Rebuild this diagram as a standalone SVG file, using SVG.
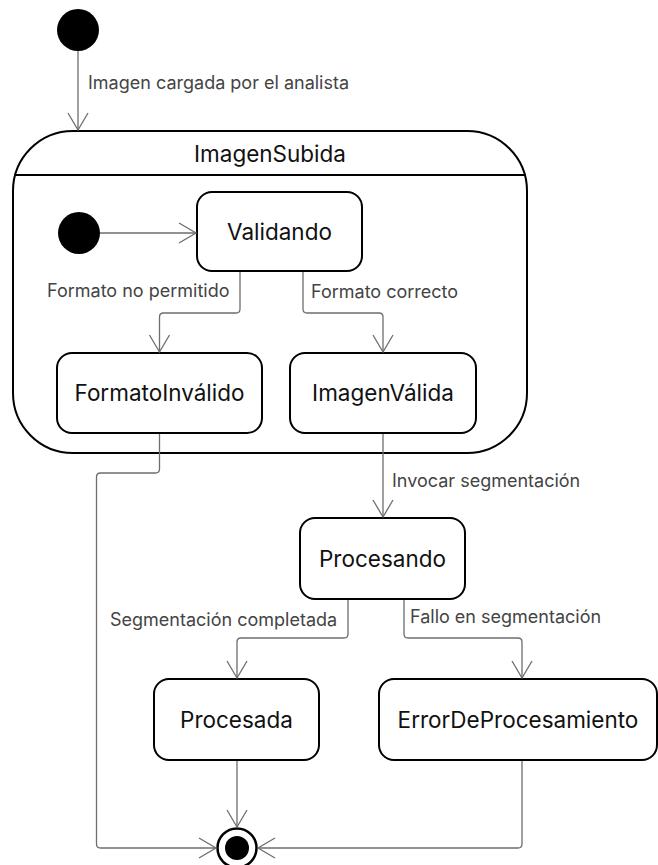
<svg xmlns="http://www.w3.org/2000/svg" width="658" height="865" viewBox="0 0 658 865">
<style>
.st{fill:#fff;stroke:#000;stroke-width:2}
.nl{font-family:Inter,"Liberation Sans",sans-serif;font-size:22.5px;fill:#111;text-anchor:middle}
.el{font-family:Inter,"Liberation Sans",sans-serif;font-size:18px;fill:#444}
.cn{fill:none;stroke:#6e6e6e;stroke-width:1.3}
</style>
<defs>
<marker id="arr" markerUnits="userSpaceOnUse" markerWidth="22" markerHeight="24" viewBox="-19 -12 21 24" refX="0" refY="0" orient="auto">
<path d="M-17,-10 L0,0 L-17,10" fill="none" stroke="#6e6e6e" stroke-width="1.3"/>
</marker>
</defs>
<rect width="658" height="865" fill="#fff"/>
<g id="init-top"><circle cx="78" cy="30" r="21" fill="#000"/></g>
<g id="ImagenSubida">
<rect class="st" x="13" y="131" width="514" height="322" rx="60"/>
<line x1="14" y1="175" x2="526" y2="175" stroke="#000" stroke-width="2"/>
<text class="nl" x="270" y="162">ImagenSubida</text>
</g>
<g id="init-inner"><circle cx="79" cy="233" r="21" fill="#000"/></g>
<g id="Validando"><rect class="st" x="197" y="192" width="165" height="79" rx="15"/><text class="nl" x="279.5" y="239.5">Validando</text></g>
<g id="FormatoInvalido"><rect class="st" x="57" y="353" width="205" height="80" rx="15"/><text class="nl" x="159.5" y="401">FormatoInválido</text></g>
<g id="ImagenValida"><rect class="st" x="290" y="353" width="186" height="80" rx="15"/><text class="nl" x="383" y="401">ImagenVálida</text></g>
<g id="Procesando"><rect class="st" x="300" y="518" width="165" height="81" rx="15"/><text class="nl" x="382.5" y="566.5">Procesando</text></g>
<g id="Procesada"><rect class="st" x="154" y="679" width="165" height="81" rx="15"/><text class="nl" x="236.5" y="727.5">Procesada</text></g>
<g id="ErrorDeProcesamiento"><rect class="st" x="379" y="679" width="278" height="81" rx="15"/><text class="nl" x="518" y="727.5">ErrorDeProcesamiento</text></g>
<g id="final"><circle cx="237" cy="848" r="19.5" fill="#fff" stroke="#000" stroke-width="2.5"/><circle cx="237" cy="848" r="12" fill="#000"/></g>
<g id="connectors">
<path class="cn" marker-end="url(#arr)" d="M78 51 V130"/>
<path class="cn" marker-end="url(#arr)" d="M100 233 H196"/>
<path class="cn" marker-end="url(#arr)" d="M240 272 V309 Q240 313 236 313 H163.5 Q159.5 313 159.5 317 V352"/>
<path class="cn" marker-end="url(#arr)" d="M303 272 V309 Q303 313 307 313 H379 Q383 313 383 317 V352"/>
<path class="cn" marker-end="url(#arr)" d="M383 434 V517"/>
<path class="cn" marker-end="url(#arr)" d="M159.5 434 V469 Q159.5 473 155.5 473 H100.5 Q96.5 473 96.5 477 V844 Q96.5 848 100.5 848 H216"/>
<path class="cn" marker-end="url(#arr)" d="M348 600 V634 Q348 638 344 638 H241 Q237 638 237 642 V678"/>
<path class="cn" marker-end="url(#arr)" d="M404 600 V634 Q404 638 408 638 H518 Q522 638 522 642 V678"/>
<path class="cn" marker-end="url(#arr)" d="M237 761 V827"/>
<path class="cn" marker-end="url(#arr)" d="M522 761 V844 Q522 848 518 848 H258"/>
<text class="el" x="88" y="89">Imagen cargada por el analista</text>
<text class="el" x="47" y="297">Formato no permitido</text>
<text class="el" x="311" y="298">Formato correcto</text>
<text class="el" x="392" y="487">Invocar segmentación</text>
<text class="el" x="110" y="626">Segmentación completada</text>
<text class="el" x="410" y="623">Fallo en segmentación</text>
</g>
</svg>
